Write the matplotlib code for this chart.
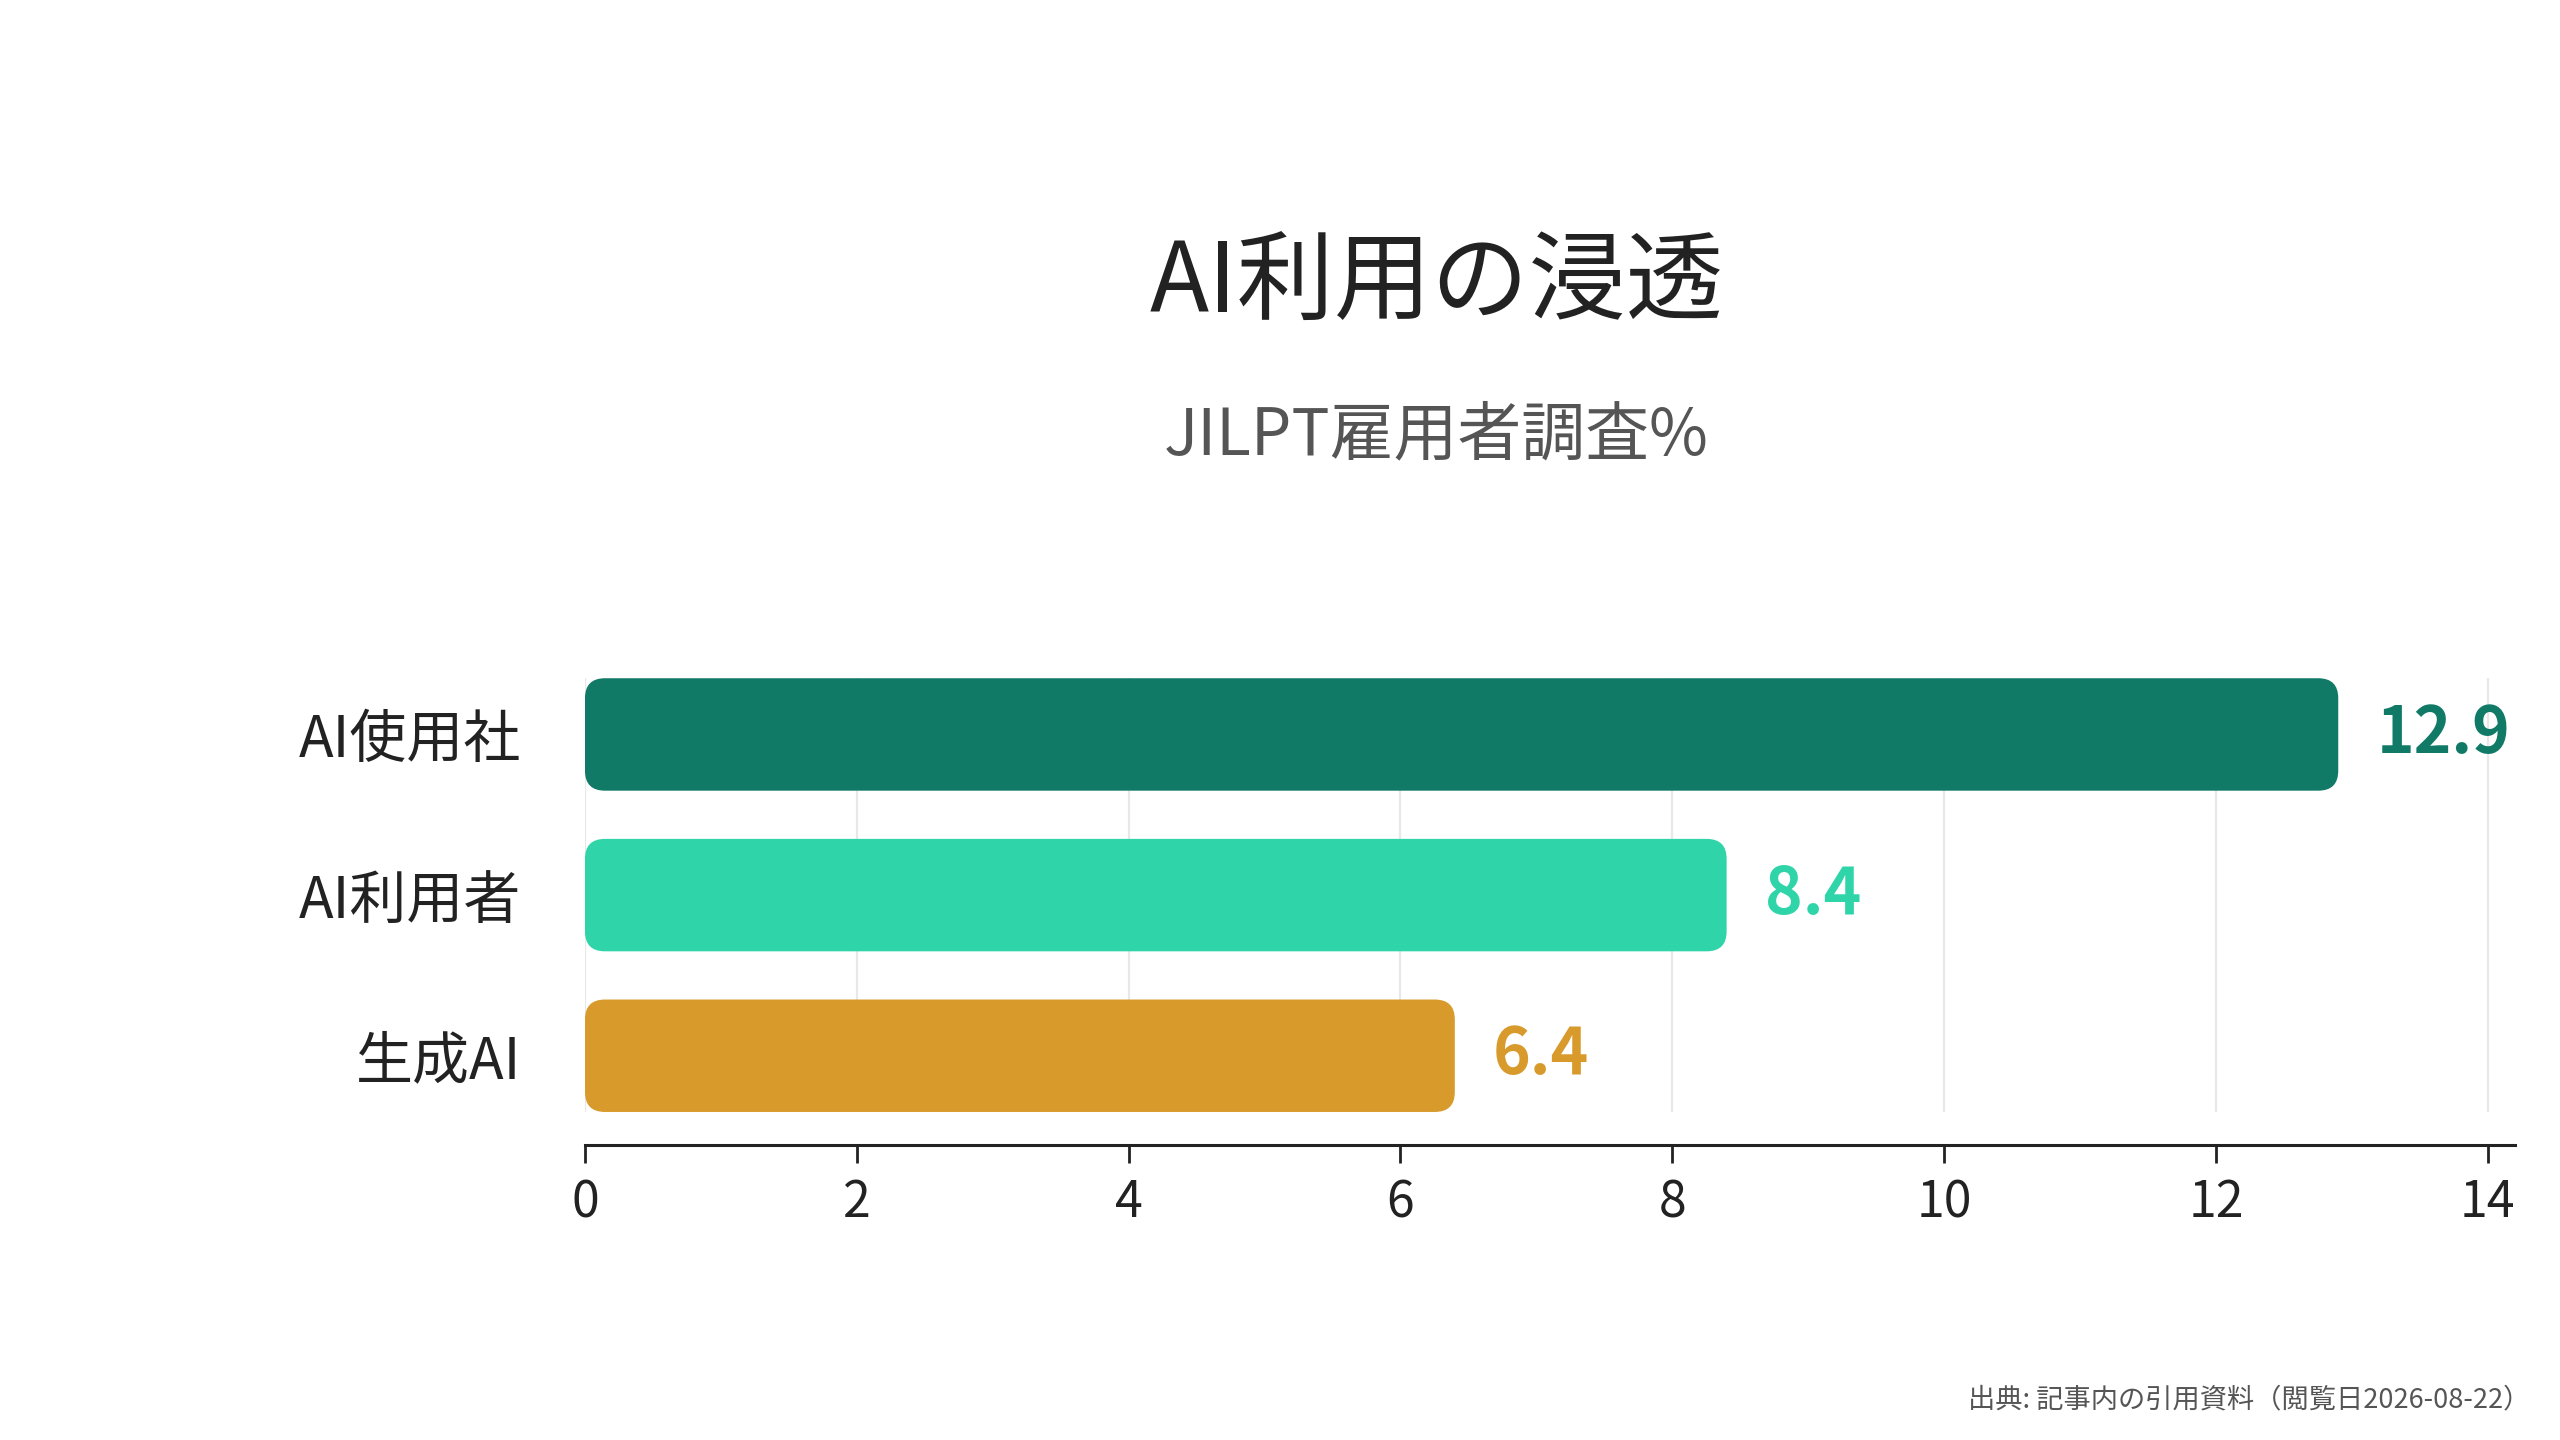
import matplotlib
matplotlib.use("Agg")
import matplotlib.pyplot as plt
from matplotlib.patches import FancyBboxPatch

plt.rcParams["font.family"] = ["Noto Sans CJK JP", "DejaVu Sans"]

# data
categories = ["AI使用社", "AI利用者", "生成AI"]
values = [12.9, 8.4, 6.4]
bar_colors = ["#107A66", "#2FD5A8", "#D99A2C"]
x_ticks = [0, 2, 4, 6, 8, 10, 12, 14]

title = "AI利用の浸透"
subtitle = "JILPT雇用者調査%"
source = "出典: 記事内の引用資料（閲覧日2026-08-22）"

fig = plt.figure(figsize=(12.8, 7.2), dpi=200)
ax = fig.add_axes([0.2285, 0.2278, 0.9824 - 0.2285, 0.529 - 0.2278])

bar_h = 0.7
ax.set_xlim(0, 14.2)
ax.set_ylim(len(categories) - 1 + bar_h / 2, -bar_h / 2)

# aspect between y and x data units in display pixels
fig.canvas.draw()
bb = ax.get_window_extent()
px_per_x = bb.width / 14.2
px_per_y = bb.height / (len(categories) - 1 + bar_h)
aspect = px_per_x / px_per_y
radius = 20 / px_per_x

for i, (v, c) in enumerate(zip(values, bar_colors)):
    patch = FancyBboxPatch((0, i - bar_h / 2), v, bar_h,
                           boxstyle=f"round,pad=0,rounding_size={radius}",
                           mutation_aspect=aspect, facecolor=c, edgecolor="none", zorder=3)
    ax.add_patch(patch)
    ax.text(v + 0.28, i, f"{v}", color=c, fontsize=23, fontweight="semibold",
            va="center", ha="left", zorder=4)

ax.set_yticks(range(len(categories)))
ax.set_yticklabels(categories)
ax.tick_params(axis="y", length=0, pad=23, labelsize=20.5, labelcolor="#222222")
ax.set_xticks(x_ticks)
ax.set_xticklabels([str(t) for t in x_ticks])
ax.tick_params(axis="x", length=6.5, width=1.0, color="#222222", pad=5,
               labelsize=18, labelcolor="#222222")

ax.grid(axis="x", color="#E8E8E8", linewidth=0.8, zorder=0)
ax.set_axisbelow(True)
for s in ["top", "right", "left"]:
    ax.spines[s].set_visible(False)
ax.spines["bottom"].set_position(("outward", 12))
ax.spines["bottom"].set_linewidth(1.1)
ax.spines["bottom"].set_color("#222222")

fig.text(0.561, 0.802, title, fontsize=35, color="#222222", ha="center", va="center")
fig.text(0.561, 0.697, subtitle, fontsize=23, color="#555555", ha="center", va="center")
fig.text(0.9885, 0.028, source, fontsize=9.8, color="#555555", ha="right", va="center")

fig.savefig("out.png", dpi=200, facecolor="white")
